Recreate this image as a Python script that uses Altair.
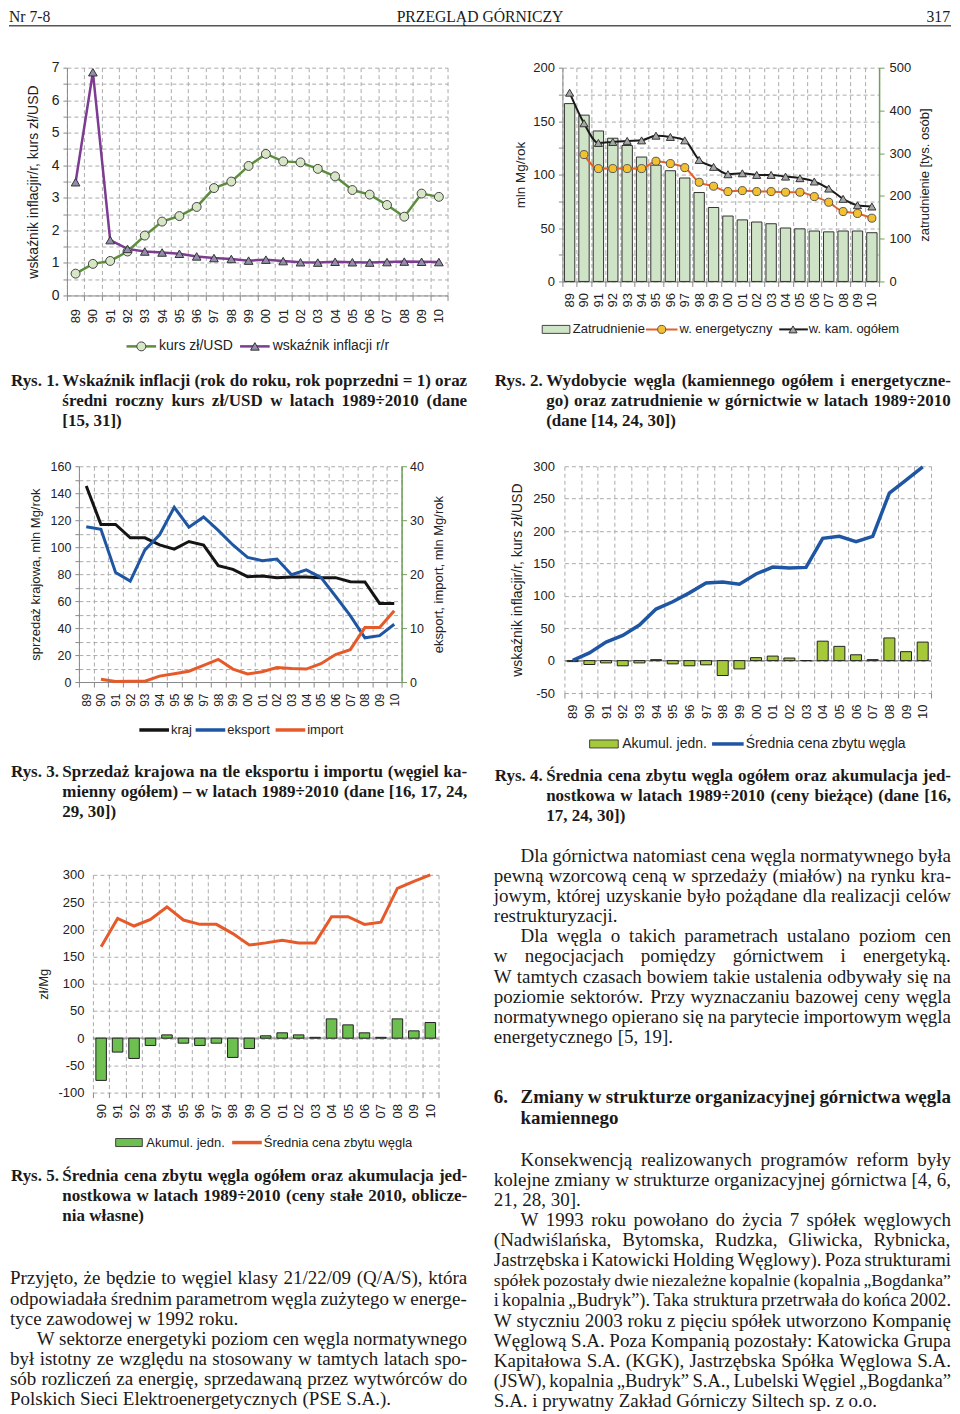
import altair as alt
import pandas as pd

# ---------------- chart data ----------------
years = ["89", "90", "91", "92", "93", "94", "95", "96", "97", "98", "99",
         "00", "01", "02", "03", "04", "05", "06", "07", "08", "09", "10"]
years5 = years[1:]

# Rys. 1
kurs_usd = [0.67, 0.97, 1.06, 1.35, 1.84, 2.27, 2.44, 2.72, 3.30, 3.50, 3.98,
            4.35, 4.12, 4.09, 3.89, 3.66, 3.24, 3.10, 2.78, 2.42, 3.13, 3.03]
inflacja = [3.48, 6.86, 1.70, 1.43, 1.35, 1.32, 1.28, 1.20, 1.15, 1.12, 1.07,
            1.10, 1.055, 1.02, 1.01, 1.035, 1.02, 1.01, 1.025, 1.04, 1.035, 1.026]
# Rys. 2
zatrudnienie = [416, 389, 352, 335, 318, 291, 272, 259, 242, 208, 173,
                153, 144, 139, 135, 125, 123, 118, 116, 118, 118, 114]
wegiel_ogolem = [176.6, 148.0, 129.6, 130.5, 131.5, 132.0, 136.4, 135.2, 132.0, 113.7, 107.2,
                 100.3, 101.2, 99.7, 99.7, 98.1, 96.6, 93.5, 86.9, 77.3, 71.3, 70.1]
wegiel_energ = [None, 118.7, 105.6, 105.6, 105.6, 105.6, 112.5, 110.3, 106.5, 92.8, 89.1,
                84.1, 85.0, 84.1, 84.1, 83.5, 83.5, 79.4, 74.1, 65.4, 63.6, 59.2]
# Rys. 3
kraj = [145.4, 116.8, 116.8, 106.9, 106.9, 101.7, 98.5, 104.2, 101.5, 86.3, 83.6,
        78.1, 78.6, 77.4, 77.9, 77.9, 77.4, 77.4, 74.4, 74.2, 58.3, 58.3]
eksport = [28.8, 28.3, 20.3, 18.7, 24.5, 27.3, 32.4, 28.7, 30.6, 28.1, 25.4,
           23.1, 22.5, 22.8, 19.9, 20.8, 19.4, 15.9, 12.3, 8.2, 8.6, 10.7]
import_ = [None, 0.5, 0.1, 0.15, 0.15, 1.1, 1.55, 2.0, 3.1, 4.2, 2.4,
           1.5, 1.9, 2.7, 2.5, 2.4, 3.4, 5.1, 6.0, 10.1, 10.1, 13.2]
# Rys. 4
cena_biezaca = [0.5, 12, 28.6, 38.8, 55, 79.6, 90.8, 104.6, 119.9, 121.4, 117.9,
                133.7, 144.4, 142.9, 143.9, 188.8, 191.8, 183.7, 191.8, 258.7, 278.6, 299]
akum_biezaca = [-1.5, -6, -3.5, -8, -3.5, 1.5, -5, -8, -6.5, -23, -12.8,
                4.6, 7, 4, 0, 30, 22, 9, 1.5, 35, 13.8, 28.6]
# Rys. 5
cena_stala = [168, 220, 206, 218, 241, 217, 209, 209, 192, 171,
              175, 180, 175, 175, 223, 223, 209, 213, 275, 288, 300]
akum_stala = [-77.6, -25.6, -37.3, -13.4, 6, -9.2, -13.4, -9.2, -35.4, -19,
              4.3, 9.8, 6, 1.5, 35.4, 24.4, 9.8, 1.5, 35.4, 13.4, 28.7]

# ---------------- page text ----------------
header_left, header_center, header_right = "Nr 7-8", "PRZEGLĄD GÓRNICZY", "317"

cap1 = ("Rys. 1.", ["Wskaźnik inflacji (rok do roku, rok poprzedni = 1) oraz",
                    "średni roczny kurs zł/USD w latach 1989÷2010 (dane",
                    "[15, 31])"])
cap2 = ("Rys. 2.", ["Wydobycie węgla (kamiennego ogółem i energetyczne-",
                    "go) oraz zatrudnienie w górnictwie w latach 1989÷2010",
                    "(dane [14, 24, 30])"])
cap3 = ("Rys. 3.", ["Sprzedaż krajowa na tle eksportu i importu (węgiel ka-",
                    "mienny ogółem) – w latach 1989÷2010 (dane [16, 17, 24,",
                    "29, 30])"])
cap4 = ("Rys. 4.", ["Średnia cena zbytu węgla ogółem oraz akumulacja jed-",
                    "nostkowa w latach 1989÷2010 (ceny bieżące) (dane [16,",
                    "17, 24, 30])"])
cap5 = ("Rys. 5.", ["Średnia cena zbytu węgla ogółem oraz akumulacja jed-",
                    "nostkowa w latach 1989÷2010 (ceny stałe 2010, oblicze-",
                    "nia własne)"])

# (text, first-line indent, justified)
text_left = [
    ("Przyjęto, że będzie to węgiel klasy 21/22/09 (Q/A/S), która", 0, True),
    ("odpowiadała średnim parametrom węgla zużytego w energe-", 0, True),
    ("tyce zawodowej w 1992 roku.", 0, False),
    ("W sektorze energetyki poziom cen węgla normatywnego", 1, True),
    ("był istotny ze względu na stosowany w tamtych latach spo-", 0, True),
    ("sób rozliczeń za energię, sprzedawaną przez wytwórców do", 0, True),
    ("Polskich Sieci Elektroenergetycznych (PSE S.A.).", 0, False),
]
text_right_top = [
    ("Dla górnictwa natomiast cena węgla normatywnego była", 1, True),
    ("pewną wzorcową ceną w sprzedaży (miałów) na rynku kra-", 0, True),
    ("jowym, której uzyskanie było pożądane dla realizacji celów", 0, True),
    ("restrukturyzacji.", 0, False),
    ("Dla węgla o takich parametrach ustalano poziom cen", 1, True),
    ("w negocjacjach pomiędzy górnictwem i energetyką.", 0, True),
    ("W tamtych czasach bowiem takie ustalenia odbywały się na", 0, True),
    ("poziomie sektorów. Przy wyznaczaniu bazowej ceny węgla", 0, True),
    ("normatywnego opierano się na parytecie importowym węgla", 0, True),
    ("energetycznego [5, 19].", 0, False),
]
heading_num = "6."
heading = ["Zmiany w strukturze organizacyjnej górnictwa węgla", "kamiennego"]
text_right_bottom = [
    ("Konsekwencją realizowanych programów reform były", 1, True),
    ("kolejne zmiany w strukturze organizacyjnej górnictwa [4, 6,", 0, True),
    ("21, 28, 30].", 0, False),
    ("W 1993 roku powołano do życia 7 spółek węglowych", 1, True),
    ("(Nadwiślańska, Bytomska, Rudzka, Gliwicka, Rybnicka,", 0, True),
    ("Jastrzębska i Katowicki Holding Węglowy). Poza strukturami", 0, True),
    ("spółek pozostały dwie niezależne kopalnie (kopalnia „Bogdanka”", 0, True),
    ("i kopalnia „Budryk”). Taka struktura przetrwała do końca 2002.", 0, True),
    ("W styczniu 2003 roku z pięciu spółek utworzono Kompanię", 0, True),
    ("Węglową S.A. Poza Kompanią pozostały: Katowicka Grupa", 0, True),
    ("Kapitałowa S.A. (KGK), Jastrzębska Spółka Węglowa S.A.", 0, True),
    ("(JSW), kopalnia „Budryk” S.A., Lubelski Węgiel „Bogdanka”", 0, True),
    ("S.A. i prywatny Zakład Górniczy Siltech sp. z o.o.", 0, False),
]

SANS = "Liberation Sans"
SERIF = "Liberation Serif"
TXT = "#222222"
GRID = "#ababab"
AXG = "#8a8a8a"
GREEN_AX = "#6f9f59"

# ---------------- page coordinates ----------------
SX = 0.9885


def lx(x):
    return (x - 3) * SX


def ly(y):
    return y - 8


# ---------------- simple typesetting (Times metrics) ----------------
TR = {' ': 250, '(': 333, ')': 333, ',': 250, '-': 333, '.': 250, '/': 278, ':': 278, ';': 278,
      '=': 564, '[': 333, ']': 333, '–': 500, '„': 444, '”': 444, '÷': 564,
      'A': 722, 'B': 667, 'C': 667, 'D': 722, 'E': 611, 'F': 556, 'G': 722, 'H': 722, 'I': 333,
      'J': 389, 'K': 722, 'L': 611, 'M': 889, 'N': 722, 'O': 722, 'P': 556, 'Q': 722, 'R': 667,
      'S': 556, 'T': 611, 'U': 722, 'V': 722, 'W': 944, 'X': 722, 'Y': 722, 'Z': 611,
      'a': 444, 'b': 500, 'c': 444, 'd': 500, 'e': 444, 'f': 333, 'g': 500, 'h': 500, 'i': 278,
      'j': 278, 'k': 500, 'l': 278, 'm': 778, 'n': 500, 'o': 500, 'p': 500, 'q': 500, 'r': 333,
      's': 389, 't': 278, 'u': 500, 'v': 500, 'w': 722, 'x': 500, 'y': 500, 'z': 444}
TB = {' ': 250, '(': 333, ')': 333, ',': 250, '-': 333, '.': 250, '/': 278, ':': 333, ';': 333,
      '=': 570, '[': 333, ']': 333, '–': 500, '„': 500, '”': 500, '÷': 570,
      'A': 722, 'B': 667, 'C': 722, 'D': 722, 'E': 667, 'F': 611, 'G': 778, 'H': 778, 'I': 389,
      'J': 500, 'K': 778, 'L': 667, 'M': 944, 'N': 722, 'O': 778, 'P': 611, 'Q': 778, 'R': 722,
      'S': 556, 'T': 667, 'U': 722, 'V': 722, 'W': 1000, 'X': 722, 'Y': 722, 'Z': 667,
      'a': 500, 'b': 556, 'c': 444, 'd': 556, 'e': 444, 'f': 333, 'g': 500, 'h': 556, 'i': 278,
      'j': 333, 'k': 556, 'l': 278, 'm': 833, 'n': 556, 'o': 500, 'p': 556, 'q': 556, 'r': 444,
      's': 389, 't': 333, 'u': 556, 'v': 500, 'w': 722, 'x': 500, 'y': 500, 'z': 444}
ACC = str.maketrans("ąćęłńóśźżĄĆĘŁŃÓŚŹŻ", "acelnoszzACELNOSZZ")


def twidth(s, fs, bold):
    t = TB if bold else TR
    return sum(t.get(ch, 500) for ch in s.translate(ACC)) * fs / 1000.0


def typeset(rows, text, x0, x1, base, fs, bold, justify):
    """x0/x1 are reference-page x; output rows are in layout pixels."""
    a, b = lx(x0), lx(x1)
    words = text.split()
    ws = [twidth(w, fs, bold) for w in words]
    sp = twidth(' ', fs, bold)
    f = fs
    if justify and len(words) > 1:
        avail = b - a
        gap = (avail - sum(ws)) / (len(words) - 1)
        if gap < 0.7 * sp:
            k = avail / (sum(ws) + 0.7 * sp * (len(words) - 1))
            f = fs * k
            ws = [w * k for w in ws]
            gap = (avail - sum(ws)) / (len(words) - 1)
    else:
        gap = sp
    x = a
    for w, wd in zip(words, ws):
        rows.append({'x': x, 'y': ly(base), 't': w, 'fs': f})
        x += wd + gap


reg_rows, bold_rows = [], []


def caption(cap, xl, x0, x1, base):
    label, lines = cap
    bold_rows.append({'x': lx(xl), 'y': ly(base), 't': label, 'fs': 17})
    for i, ln in enumerate(lines):
        typeset(bold_rows, ln, x0, x1, base + 20 * i, 17, True, i < len(lines) - 1)


caption(cap1, 5, 57, 467, 384.5)
caption(cap2, 495, 547, 957, 384.5)
caption(cap3, 5, 57, 467, 776.5)
caption(cap4, 495, 547, 957, 780.5)
caption(cap5, 5, 57, 467, 1180.7)


def body(lines, x0, x1, indent_x, bases):
    for (t, ind, just), b in zip(lines, bases):
        typeset(reg_rows, t, indent_x if ind else x0, x1, b, 19, False, just)


body(text_left, 4, 467, 31, [1284, 1304.2, 1324.4, 1344.6, 1364.8, 1385, 1405.2])
body(text_right_top, 494, 957, 521,
     [860.7, 880.9, 901.1, 921.3, 941.5, 961.7, 981.9, 1002.1, 1022.3, 1042.5])
bold_rows.append({'x': lx(494), 'y': ly(1102.7), 't': heading_num, 'fs': 19})
typeset(bold_rows, heading[0], 521, 957, 1102.7, 19, True, True)
typeset(bold_rows, heading[1], 521, 957, 1123.3, 19, True, False)
body(text_right_bottom, 494, 957, 521, [1165 + 20.15 * i for i in range(13)])

# legends (drawn on the page layer, positions in reference pixels)
leg_rules = [
    (3, 957, 24, '#555555', 1.6),
    (122, 152, 345, '#5b8f3b', 2.5), (237, 267, 345, '#7d3b92', 2.5),
    (648, 680, 328, '#e3622b', 2), (783, 812, 328, '#1a1a1a', 2),
    (135, 165, 729, '#141414', 3.5), (192, 222, 729, '#1f56a3', 3.5), (273, 303, 729, '#e65a2a', 3.5),
    (715, 747, 743, '#1f56a3', 3.5),
    (229, 259, 1142, '#e65a2a', 3.5),
]
leg_points = [
    (137, 345, 'circle', '#d7e6c5', '#444444', 80),
    (252, 345, 'triangle-up', '#948cad', '#333333', 75),
    (664, 328, 'circle', '#f3c02f', '#555555', 65),
    (797, 328, 'triangle-up', '#a6a6a6', '#333333', 65),
]
leg_rects = [
    (543, 571, 324, 332, '#cfe3c6'),
    (591, 620, 739, 747, '#a6c93a'),
    (111, 138, 1138, 1146, '#6dbf4f'),
]
leg_texts = [
    (155, 345, 'kurs zł/USD', 14), (270, 345, 'wskaźnik inflacji r/r', 14),
    (574, 328, 'Zatrudnienie', 13), (682, 328, 'w. energetyczny', 13), (813, 328, 'w. kam. ogółem', 13),
    (167, 729, 'kraj', 13), (224, 729, 'eksport', 13), (305, 729, 'import', 13),
    (624, 743, 'Akumul. jedn.', 14), (749, 743, 'Średnia cena zbytu węgla', 14),
    (142, 1142, 'Akumul. jedn.', 13), (261, 1142, 'Średnia cena zbytu węgla', 13),
]

df_rules = pd.DataFrame([{'x': lx(a), 'x2': lx(b), 'y': ly(y), 'c': c, 'w': w} for a, b, y, c, w in leg_rules])
df_pts = pd.DataFrame([{'x': lx(x), 'y': ly(y), 'sh': sh, 'f': f, 's': s, 'sz': sz}
                       for x, y, sh, f, s, sz in leg_points])
df_rects = pd.DataFrame([{'x': lx(a), 'x2': lx(b), 'y': ly(y), 'y2': ly(y2), 'c': c}
                         for a, b, y, y2, c in leg_rects])
df_ltxt = pd.DataFrame([{'x': lx(x), 'y': ly(y), 't': t, 'fs': fs} for x, y, t, fs in leg_texts])

PX = dict(x=alt.X('x:Q', scale=None, axis=None), y=alt.Y('y:Q', scale=None, axis=None))
SZ = alt.Size('fs:Q', scale=None, legend=None)
HB = 12.5  # header baseline (layout); keeps the page's top edge at the header

page_layers = [
    alt.Chart(df_rules).mark_rule(strokeCap='butt').encode(
        x2='x2:Q', color=alt.Color('c:N', scale=None, legend=None),
        strokeWidth=alt.StrokeWidth('w:Q', scale=None, legend=None), **PX),
    alt.Chart(df_rects).mark_rect(stroke='#333333', strokeWidth=0.9).encode(
        x2='x2:Q', y2='y2:Q', fill=alt.Fill('c:N', scale=None, legend=None), **PX),
    alt.Chart(df_pts).mark_point(filled=True, opacity=1, strokeWidth=1).encode(
        shape=alt.Shape('sh:N', scale=None, legend=None), fill=alt.Fill('f:N', scale=None, legend=None),
        stroke=alt.Stroke('s:N', scale=None, legend=None), size=alt.Size('sz:Q', scale=None, legend=None), **PX),
    alt.Chart(df_ltxt).mark_text(align='left', baseline='middle', font=SANS, color=TXT).encode(
        text='t:N', size=SZ, **PX),
    alt.Chart(pd.DataFrame(reg_rows)).mark_text(align='left', baseline='alphabetic', font=SERIF,
                                                color='#1a1a1a').encode(text='t:N', size=SZ, **PX),
    alt.Chart(pd.DataFrame(bold_rows)).mark_text(align='left', baseline='alphabetic', font=SERIF,
                                                 fontWeight='bold', color='#1a1a1a').encode(text='t:N', size=SZ, **PX),
    alt.Chart(pd.DataFrame([{'x': 0, 'y': HB, 't': header_left, 'fs': 15.7}])).mark_text(
        align='left', baseline='alphabetic', font=SERIF, color='#1a1a1a').encode(text='t:N', size=SZ, **PX),
    alt.Chart(pd.DataFrame([{'x': lx(480), 'y': HB, 't': header_center, 'fs': 15.7}])).mark_text(
        align='center', baseline='alphabetic', font=SERIF, color='#1a1a1a').encode(text='t:N', size=SZ, **PX),
    alt.Chart(pd.DataFrame([{'x': lx(956), 'y': HB, 't': header_right, 'fs': 15.7}])).mark_text(
        align='right', baseline='alphabetic', font=SERIF, color='#1a1a1a').encode(text='t:N', size=SZ, **PX),
]

# ---------------- chart geometry (columns of the page grid) ----------------
R1 = ly(66)            # top of charts 1/2
R3 = ly(465)           # top of charts 3/4
R5 = ly(874)           # top of chart 5
page = alt.layer(*page_layers).properties(width=1, height=R1)

XL = round(lx(62))    # left column of charts
XR = round(lx(563))   # right column of charts


def geom(x0, x1, col):
    off = round(lx(x0)) - col
    right = round(lx(x1)) - col
    return off, right


g1 = geom(62, 447, XL)
g3 = geom(74, 401, XL)
g5 = geom(88, 438, XL)
g2 = geom(563, 884, XR)
g4 = geom(565, 937, XR)
COL1 = max(g1[1], g3[1], g5[1])
COL2 = XR - XL - COL1


# ---------------- chart helpers ----------------
def xaxis(fs, pad, domain=True):
    return alt.Axis(title=None, labelAngle=270, labelAlign='right', labelBaseline='middle',
                    labelFontSize=fs, labelFont=SANS, labelColor=TXT, labelPadding=pad,
                    labelOverlap=False, tickBand='extent', ticks=True, tickSize=5, tickColor=AXG,
                    grid=True, gridDash=[4, 3], gridColor=GRID, domain=domain, domainColor=AXG)


def xenc(dom, axis, g, center=False):
    kw = dict(bandPosition=0.5) if center else {}
    return alt.X('yr:N', sort=dom,
                 scale=alt.Scale(type='band', domain=dom, range=[g[0], g[1]], paddingInner=0, paddingOuter=0),
                 axis=axis, **kw)


def yaxis(values, fs, title, tx, ty, tfs, labexpr=None, orient='left', domain=True,
          dcolor=AXG, grid=True, ticks=True, tsize=4, pad=4, dwidth=1, offset=0):
    kw = dict(values=values, labelFontSize=fs, labelFont=SANS, labelColor=TXT, labelPadding=pad,
              ticks=ticks, tickSize=tsize, tickColor=dcolor, domain=domain, domainColor=dcolor,
              domainWidth=dwidth, grid=grid, gridDash=[4, 3], gridColor=GRID,
              title=title, titleX=tx, titleY=ty, titleAngle=270, titleAlign='center',
              titleBaseline='middle', titleFontSize=tfs, titleFont=SANS, titleFontWeight='normal',
              titleColor=TXT, orient=orient, offset=offset)
    if labexpr:
        kw['labelExpr'] = labexpr
    return alt.Axis(**kw)


NEG = "datum.value < 0 ? '-' + format(-datum.value, 'd') : format(datum.value, 'd')"

# ---------------- Rys. 1 ----------------
H1 = 228
d1 = pd.DataFrame({'yr': years * 2, 's': ['kurs'] * 22 + ['infl'] * 22, 'v': kurs_usd + inflacja})
ax1 = xaxis(13, 8)
y1 = alt.Y('v:Q', scale=alt.Scale(domain=[0, 7], nice=False),
           axis=yaxis([i * 0.5 for i in range(15)], 14, 'wskaźnik inflacjir/r, kurs zł/USD', -33, H1 / 2, 14,
                      labexpr="datum.value % 1 === 0 ? format(datum.value, 'd') : ''", offset=-g1[0]))
b1 = alt.Chart(d1)
c1 = alt.layer(
    b1.transform_filter("datum.s == 'kurs'").mark_line(color='#5b8f3b', strokeWidth=2.5).encode(
        x=xenc(years, ax1, g1, True), y=y1),
    b1.transform_filter("datum.s == 'infl'").mark_line(color='#7d3b92', strokeWidth=2.5).encode(
        x=xenc(years, ax1, g1, True), y=y1),
    b1.transform_filter("datum.s == 'kurs'").mark_point(shape='circle', filled=True, fill='#d7e6c5',
                                                        stroke='#444444', strokeWidth=1, size=80, opacity=1).encode(
        x=xenc(years, ax1, g1, True), y=y1),
    b1.transform_filter("datum.s == 'infl'").mark_point(shape='triangle-up', filled=True, fill='#948cad',
                                                        stroke='#333333', strokeWidth=1, size=75, opacity=1).encode(
        x=xenc(years, ax1, g1, True), y=y1),
).properties(width=g1[1], height=H1)

# ---------------- Rys. 2 ----------------
H2 = 214
d2b = pd.DataFrame({'yr': years, 'zat': zatrudnienie})
d2l = pd.DataFrame({'yr': years * 2, 's': ['og'] * 22 + ['en'] * 22,
                    'v': wegiel_ogolem + wegiel_energ}).dropna()
ax2 = xaxis(13, 6)
y2r = alt.Y('zat:Q', scale=alt.Scale(domain=[0, 500], nice=False),
            axis=yaxis([0, 100, 200, 300, 400, 500], 13, 'zatrudnienie [tys. osób]', 45, H2 / 2, 13,
                       orient='right', dcolor=GREEN_AX, grid=False, tsize=5, pad=5, dwidth=1.5))
y2l = alt.Y('v:Q', scale=alt.Scale(domain=[0, 200], nice=False),
            axis=yaxis([i * 25 for i in range(9)], 13, 'mln Mg/rok', -42, H2 / 2, 13.5,
                       labexpr="datum.value % 50 === 0 ? format(datum.value, 'd') : ''", offset=-g2[0]))
b2 = alt.Chart(d2l)
bars2 = alt.Chart(d2b).mark_bar(width={'band': 0.72}, fill='#cfe3c6', stroke='#333333', strokeWidth=1).encode(
    x=xenc(years, ax2, g2), y=y2r)
lines2 = alt.layer(
    b2.transform_filter("datum.s == 'og'").mark_line(color='#1a1a1a', strokeWidth=2, interpolate='monotone').encode(
        x=xenc(years, ax2, g2, True), y=y2l),
    b2.transform_filter("datum.s == 'en'").mark_line(color='#e3622b', strokeWidth=2, interpolate='monotone').encode(
        x=xenc(years, ax2, g2, True), y=y2l),
    b2.transform_filter("datum.s == 'og'").mark_point(shape='triangle-up', filled=True, fill='#a6a6a6',
                                                      stroke='#333333', strokeWidth=1, size=65, opacity=1).encode(
        x=xenc(years, ax2, g2, True), y=y2l),
    b2.transform_filter("datum.s == 'en'").mark_point(shape='circle', filled=True, fill='#f3c02f',
                                                      stroke='#555555', strokeWidth=1, size=65, opacity=1).encode(
        x=xenc(years, ax2, g2, True), y=y2l),
)
c2 = alt.layer(bars2, lines2).resolve_scale(y='independent').properties(width=g2[1], height=H2)

# ---------------- Rys. 3 ----------------
H3 = 216
d3k = pd.DataFrame({'yr': years, 'v': kraj})
d3e = pd.DataFrame({'yr': years * 2, 's': ['eks'] * 22 + ['imp'] * 22, 'w': eksport + import_}).dropna()
ax3 = xaxis(12, 6)
y3l = alt.Y('v:Q', scale=alt.Scale(domain=[0, 160], nice=False),
            axis=yaxis([i * 10 for i in range(17)], 12.5, 'sprzedaż krajowa, mln Mg/rok', -43, H3 / 2, 13,
                       labexpr="datum.value % 20 === 0 ? format(datum.value, 'd') : ''", offset=-g3[0]))
y3r = alt.Y('w:Q', scale=alt.Scale(domain=[0, 40], nice=False),
            axis=yaxis([0, 10, 20, 30, 40], 12.5, 'eksport, import, mln Mg/rok', 37, H3 / 2, 13,
                       orient='right', dcolor=GREEN_AX, grid=False, tsize=5, pad=3, dwidth=1.5))
b3 = alt.Chart(d3e)
c3 = alt.layer(
    alt.Chart(d3k).mark_line(color='#141414', strokeWidth=3).encode(x=xenc(years, ax3, g3, True), y=y3l),
    alt.layer(
        b3.transform_filter("datum.s == 'eks'").mark_line(color='#1f56a3', strokeWidth=3).encode(
            x=xenc(years, ax3, g3, True), y=y3r),
        b3.transform_filter("datum.s == 'imp'").mark_line(color='#e65a2a', strokeWidth=3).encode(
            x=xenc(years, ax3, g3, True), y=y3r),
    ),
).resolve_scale(y='independent').properties(width=g3[1], height=H3)

# ---------------- Rys. 4 ----------------
H4 = 227
ax4 = xaxis(13, 6, domain=False)
y4 = alt.Y('v:Q', scale=alt.Scale(domain=[-50, 300], nice=False),
           axis=yaxis([-50, 0, 50, 100, 150, 200, 250, 300], 13, 'wskaźnik inflacjir/r, kurs zł/USD',
                      -47, H4 / 2, 14, labexpr=NEG, domain=False, ticks=False, pad=10, offset=-g4[0]))
c4 = alt.layer(
    alt.Chart(pd.DataFrame({'v': [0]})).mark_rule(color='#8c8c8c', strokeWidth=1.2).encode(
        y=y4, x=alt.value(g4[0]), x2=alt.value(g4[1])),
    alt.Chart(pd.DataFrame({'yr': years, 'v': akum_biezaca})).mark_bar(
        width={'band': 0.66}, fill='#a6c93a', stroke='#222222', strokeWidth=1).encode(x=xenc(years, ax4, g4), y=y4),
    alt.Chart(pd.DataFrame({'yr': years, 'v': cena_biezaca})).mark_line(
        color='#1f56a3', strokeWidth=3.5).encode(x=xenc(years, ax4, g4, True), y=y4),
).properties(width=g4[1], height=H4)

# ---------------- Rys. 5 ----------------
H5 = 218
ax5 = xaxis(13, 6, domain=False)
y5 = alt.Y('v:Q', scale=alt.Scale(domain=[-100, 300], nice=False),
           axis=yaxis([-100, -50, 0, 50, 100, 150, 200, 250, 300], 13, 'zł/Mg',
                      -49, H5 / 2, 13, labexpr=NEG, domain=False, ticks=False, pad=9, offset=-g5[0]))
c5 = alt.layer(
    alt.Chart(pd.DataFrame({'v': [0]})).mark_rule(color='#8c8c8c', strokeWidth=1.2).encode(
        y=y5, x=alt.value(g5[0]), x2=alt.value(g5[1])),
    alt.Chart(pd.DataFrame({'yr': years5, 'v': akum_stala})).mark_bar(
        width={'band': 0.64}, fill='#6dbf4f', stroke='#222222', strokeWidth=1).encode(x=xenc(years5, ax5, g5), y=y5),
    alt.Chart(pd.DataFrame({'yr': years5, 'v': cena_stala})).mark_line(
        color='#e65a2a', strokeWidth=3).encode(x=xenc(years5, ax5, g5, True), y=y5),
).properties(width=g5[1], height=H5)

# ---------------- page layout ----------------
dummy = pd.DataFrame({'d': [0]})


def sp(w, h):
    return alt.Chart(dummy).mark_text(text='', align='left', baseline='top').encode(
        x=alt.value(0), y=alt.value(0)).properties(width=w, height=h)


cells = [
    page, sp(1, 1), sp(1, 1), sp(1, 1),
    sp(XL, 1), c1, sp(COL2, 1), c2,
    sp(1, R3 - R1 - H1), sp(1, 1), sp(1, 1), sp(1, 1),
    sp(1, 1), c3, sp(1, 1), c4,
    sp(1, R5 - R3 - H4), sp(1, 1), sp(1, 1), sp(1, 1),
    sp(1, 1), c5, sp(1, 1), sp(1, 1),
]

chart = alt.concat(*cells, columns=4).properties(
    spacing=0, bounds='flush', align='each', padding=0
).configure(font=SANS, background='white').configure_view(strokeWidth=0, stroke='transparent')

chart.save("out.html", embed_options={"renderer": "svg", "actions": False})
